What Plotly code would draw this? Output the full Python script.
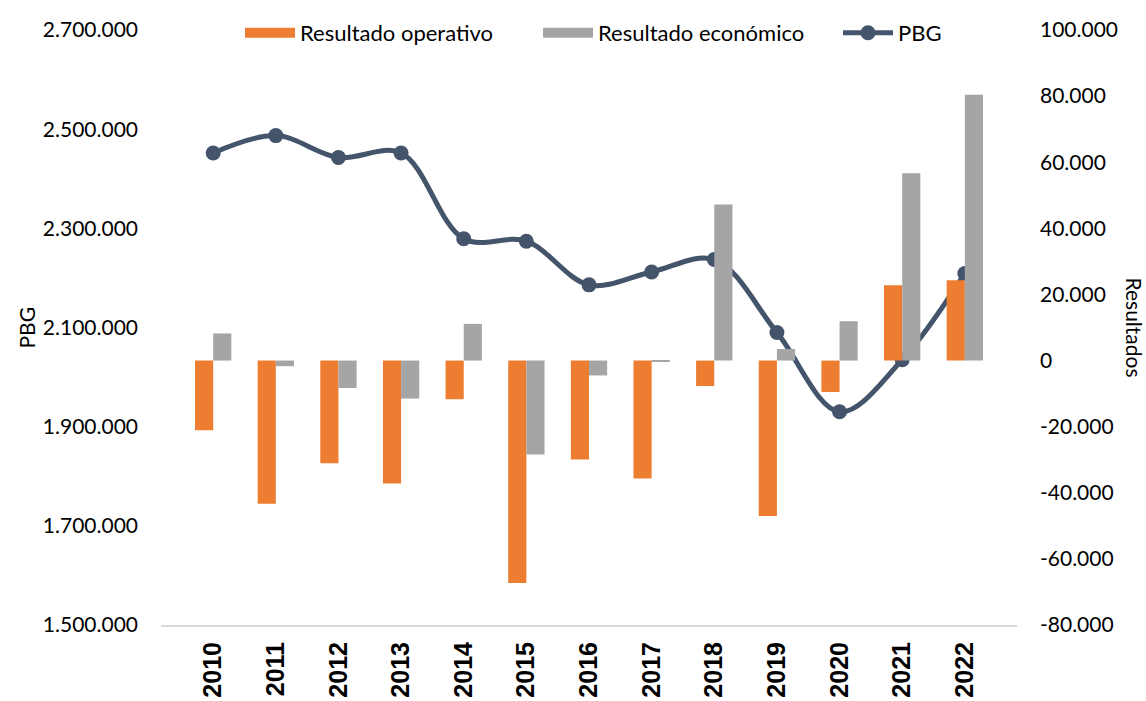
import plotly.graph_objects as go

years = ["2010", "2011", "2012", "2013", "2014", "2015", "2016",
         "2017", "2018", "2019", "2020", "2021", "2022"]
resultado_operativo = [-21100, -43300, -31100, -37200, -11700, -67300, -29900,
                       -35700, -7700, -47000, -9500, 22800, 24300]
resultado_economico = [8200, -1700, -8300, -11500, 11100, -28400, -4500,
                       -400, 47200, 3500, 11900, 56700, 80400]
pbg = [2452000, 2487000, 2443000, 2452000, 2279000, 2274000, 2186000,
       2212000, 2237000, 2090000, 1930000, 2035000, 2209000]

left_ticks = [1500000, 1700000, 1900000, 2100000, 2300000, 2500000, 2700000]
right_ticks = [-80000, -60000, -40000, -20000, 0, 20000, 40000, 60000, 80000, 100000]


def fmt(v):
    return f"{v:,}".replace(",", ".")


FONT = "Lato"
ORANGE = "#ED7D31"
GREY = "#A5A5A5"
NAVY = "#44546A"

fig = go.Figure()
fig.add_trace(go.Bar(x=years, y=resultado_operativo, name="Resultado operativo",
                     marker=dict(color=ORANGE, line=dict(width=0)), yaxis="y2",
                     legendgroup="op", showlegend=False))
fig.add_trace(go.Bar(x=years, y=resultado_economico, name="Resultado económico",
                     marker=dict(color=GREY, line=dict(width=0)), yaxis="y2",
                     legendgroup="ec", showlegend=False))
fig.add_trace(go.Scatter(x=years, y=pbg, name="PBG", mode="lines+markers",
                         line=dict(color=NAVY, width=5, shape="spline", smoothing=1),
                         marker=dict(color=NAVY, size=15), yaxis="y",
                         legend="legend2"))
# legend swatches (wide rectangles like the original legend)
fig.add_trace(go.Scatter(x=[None], y=[None], name="Resultado operativo", mode="lines",
                         line=dict(color=ORANGE, width=17), legendgroup="op",
                         yaxis="y2", legendrank=1, hoverinfo="skip"))
fig.add_trace(go.Scatter(x=[None], y=[None], name="Resultado económico", mode="lines",
                         line=dict(color=GREY, width=17), legendgroup="ec",
                         yaxis="y2", legendrank=2, hoverinfo="skip"))

legend_font = dict(family=FONT, size=22, color="#000000")

fig.update_layout(
    width=1146, height=701,
    margin=dict(l=161, r=129, t=27, b=76),
    paper_bgcolor="white", plot_bgcolor="white",
    font=dict(family=FONT, size=20, color="#000000"),
    barmode="group", bargap=0.42, bargroupgap=0,
    showlegend=True,
    legend=dict(orientation="h", x=0.0923, xanchor="left", y=0.995, yanchor="middle",
                bgcolor="rgba(0,0,0,0)", font=legend_font,
                itemwidth=50, entrywidth=233, entrywidthmode="pixels"),
    legend2=dict(orientation="h", x=0.7909, xanchor="left", y=0.995, yanchor="middle",
                 bgcolor="rgba(0,0,0,0)", font=legend_font, itemwidth=50),
    xaxis=dict(type="category", showgrid=False, showline=True, linecolor="#D9D9D9",
               linewidth=2, ticks="", tickangle=-90, automargin=False,
               tickfont=dict(family="Liberation Sans", size=25, color="#000000",
                             weight="bold"),
               ticklabelstandoff=5),
    yaxis=dict(range=[1500000, 2700000], tickvals=left_ticks,
               ticktext=[fmt(v) for v in left_ticks], showgrid=False, zeroline=False,
               showline=False, ticks="", ticklabelstandoff=22, automargin=False,
               tickfont=dict(family=FONT, size=21, color="#000000")),
    yaxis2=dict(range=[-80000, 100000], tickvals=right_ticks,
                ticktext=[fmt(v) for v in right_ticks], overlaying="y", side="right",
                showgrid=False, zeroline=False, showline=False, ticks="",
                ticklabelstandoff=22, automargin=False,
                tickfont=dict(family=FONT, size=21, color="#000000")),
    annotations=[
        dict(text="PBG", xref="paper", yref="paper", x=-0.1577, y=0.5,
             xanchor="center", yanchor="middle", textangle=-90, showarrow=False,
             font=dict(family=FONT, size=21, color="#000000")),
        dict(text="Resultados", xref="paper", yref="paper", x=1.1367, y=0.5,
             xanchor="center", yanchor="middle", textangle=90, showarrow=False,
             font=dict(family=FONT, size=21, color="#000000")),
    ],
)

fig.write_html(
    "out.html",
    config={"displayModeBar": False},
    post_script=("document.body.style.margin='0';document.body.style.padding='0';"
                 "document.documentElement.style.overflow='hidden';"),
)
